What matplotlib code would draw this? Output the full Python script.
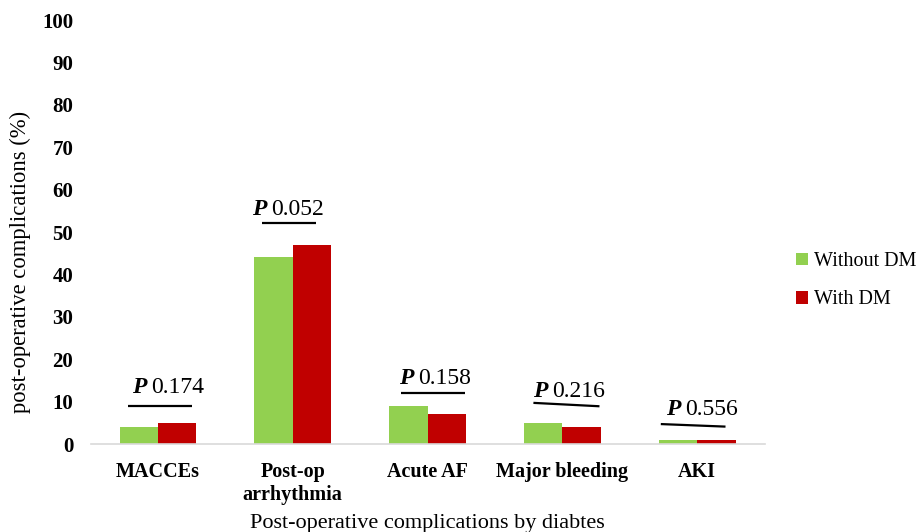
import matplotlib.pyplot as plt
import numpy as np

plt.rcParams['font.family'] = ['Liberation Serif', 'DejaVu Serif']

# data
categories = ['MACCEs', 'Post-op\narrhythmia', 'Acute AF', 'Major bleeding', 'AKI']
without_dm = [4, 44, 9, 5, 1]
with_dm = [5, 47, 7, 4, 1]
p_values = ['0.174', '0.052', '0.158', '0.216', '0.556']

# p-value line: height above taller bar, drop at right end, horizontal extent
p_offset = [4.0, 5.1, 3.0, 4.7, 3.7]
p_drop = [0, 0, 0, 0.8, 0.6]
p_left = [-0.22, -0.23, -0.20, -0.215, -0.27]
p_right = [0.25, 0.17, 0.28, 0.275, 0.21]
p_text_x = [-0.19, -0.30, -0.21, -0.215, -0.23]
p_text_gap = [3.1, 1.9, 2.1, 1.3, 2.1]

fig = plt.figure(figsize=(9.19, 5.32), dpi=100)
ax = fig.add_axes([90.6 / 919, 88 / 532, 674 / 919, 424 / 532])

x = np.arange(len(categories))
w = 0.285
ax.bar(x - w / 2, without_dm, w, color='#92d050', label='Without DM')
ax.bar(x + w / 2, with_dm, w, color='#c00000', label='With DM')

for i, p in enumerate(p_values):
    y = max(without_dm[i], with_dm[i]) + p_offset[i]
    ax.plot([x[i] + p_left[i], x[i] + p_right[i]], [y, y - p_drop[i]],
            color='black', lw=1.6, solid_capstyle='butt')
    t = ax.text(x[i] + p_text_x[i], y + p_text_gap[i], 'P', fontsize=17,
                va='baseline', ha='left', fontweight='bold', fontstyle='italic')
    ax.annotate(p, xy=(1, 0), xycoords=t, xytext=(3, 0), textcoords='offset points',
                fontsize=17, va='bottom', ha='left')

ax.set_xlim(-0.5, 4.5)
ax.set_ylim(0, 100)
ax.set_yticks(range(0, 101, 10))
ax.set_xticks(x)
ax.set_xticklabels(categories, fontsize=14.5, fontweight='bold')
ax.tick_params(axis='y', labelsize=15, length=0, pad=12.5)
ax.tick_params(axis='x', length=0, pad=13)
for lab in ax.get_yticklabels():
    lab.set_fontweight('bold')

for s in ['top', 'right', 'left']:
    ax.spines[s].set_visible(False)
ax.spines['bottom'].set_color('#d9d9d9')
ax.spines['bottom'].set_linewidth(1.2)

ax.set_ylabel('post-operative complications (%)', fontsize=16.3)
ax.yaxis.set_label_coords(-0.088, 0.43)
ax.set_xlabel('Post-operative complications by diabtes', fontsize=16)
ax.xaxis.set_label_coords(0.5, -0.165)

ax.legend(loc='center left', bbox_to_anchor=(1.02, 0.385), frameon=False,
          fontsize=14.5, handlelength=0.6, handleheight=0.6, labelspacing=0.95,
          handletextpad=0.3)

plt.savefig('out.png', dpi=100)
